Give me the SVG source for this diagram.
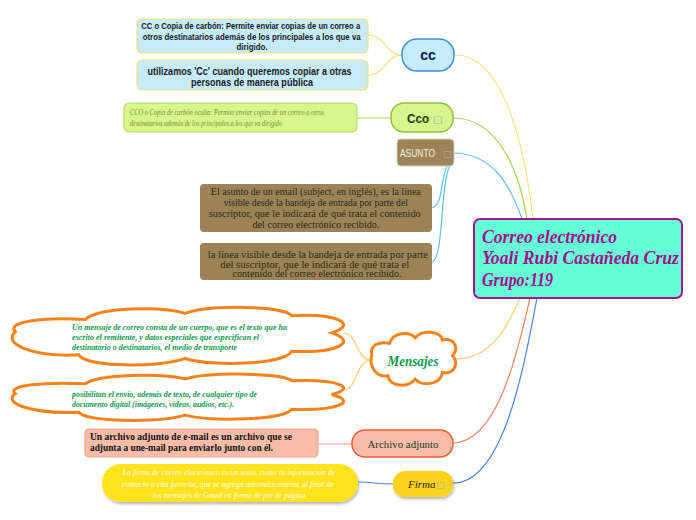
<svg xmlns="http://www.w3.org/2000/svg" xmlns:xlink="http://www.w3.org/1999/xlink" width="696" height="520" viewBox="0 0 696 520">
<style>
.conn{fill:none;stroke-width:1.2}
.cc{fill:#c6ebfb}
.t{font-family:"Liberation Serif","DejaVu Serif",serif}
.s{font-family:"Liberation Sans","DejaVu Sans",sans-serif}
.cloud{fill:#fff;stroke:#f7821b;stroke-width:3}
.mtx{font-family:"Liberation Serif","DejaVu Serif",serif;font-style:italic;font-weight:bold;fill:#0d9a4c;font-size:9px}
.tofu{font-family:"DejaVu Sans",sans-serif;fill:#b0b0a0}
</style>
<defs>
<path id="cloud" vector-effect="non-scaling-stroke" d="M1,42 C-2,25 10,18 22,22 C26,2 45,0 52,12 C60,-3 82,0 84,16 C98,12 104,30 96,44 C104,58 98,78 84,74 C82,96 60,100 52,86 C44,102 22,100 20,80 C6,84 -3,62 1,42 Z"/>
<filter id="sh" x="-10%" y="-20%" width="120%" height="150%"><feDropShadow dx="1" dy="2" stdDeviation="1.5" flood-color="#000" flood-opacity="0.3"/></filter>
</defs>
<rect width="696" height="520" fill="#fff"/>

<g id="connectors">
<path class="conn" stroke="#f7e07a" d="M455,55 C505,55 525,150 533,219"/>
<path class="conn" stroke="#a8d45a" d="M453,118 C500,118 520,175 527,219"/>
<path class="conn" stroke="#5bc0eb" d="M453,153 C495,153 512,190 522,219"/>
<path class="conn" stroke="#ffc870" d="M455,359 C495,359 510,320 520,298"/>
<path class="conn" stroke="#f5805a" d="M453,443 C500,443 520,340 530,298"/>
<path class="conn" stroke="#4a84e0" d="M453,483 C505,483 525,360 537,298"/>
<path class="conn" stroke="#f7e07a" d="M402,55 C385,55 386,35 368,35"/>
<path class="conn" stroke="#f7e07a" d="M402,55 C385,55 386,75 368,75"/>
<path class="conn" stroke="#a8d45a" d="M391,118 L357,118"/>
<path class="conn" stroke="#5bc0eb" d="M448,165 C440,175 444,205 432,208"/>
<path class="conn" stroke="#5bc0eb" d="M450,165 C440,185 444,258 432,262"/>
<path class="conn" stroke="#ffc870" d="M372,360 C355,360 358,333 343,333"/>
<path class="conn" stroke="#ffc870" d="M372,360 C355,360 358,390 343,390"/>
<path class="conn" stroke="#f8a08a" d="M352,444 L318,444"/>
<path class="conn" stroke="#4a84e0" d="M393,484 C375,484 376,482 358,482"/>
</g>

<g id="central">
<rect x="474" y="219" width="208" height="79" rx="6" fill="#66ffd8" stroke="#a5158f" stroke-width="2"/>
<text class="t" font-size="18" font-weight="bold" font-style="italic" fill="#a0108a">
<tspan x="482" y="243" textLength="135" lengthAdjust="spacingAndGlyphs">Correo electrónico</tspan>
<tspan x="482" y="264" textLength="197" lengthAdjust="spacingAndGlyphs">Yoali Rubi Castañeda Cruz</tspan>
<tspan x="482" y="286" textLength="71" lengthAdjust="spacingAndGlyphs">Grupo:119</tspan>
</text>
</g>

<g id="cc">
<rect class="cc" x="402" y="39" width="52" height="32" rx="15" stroke="#3d8fd8" stroke-width="1.5"/>
<text class="s" x="428" y="60" text-anchor="middle" font-size="14" font-weight="bold" fill="#0a1a4a">cc</text>
</g>
<g id="cc-1">
<rect class="cc" x="137" y="19" width="231" height="34" rx="5" stroke="#f7e07a" stroke-width="1.2"/>
<text class="s" font-size="9.5" font-weight="bold" fill="#1a1a1a" text-anchor="middle">
<tspan x="252" y="29" textLength="219" lengthAdjust="spacingAndGlyphs">CC o Copia de carbón: Permite enviar copias de un correo a</tspan>
<tspan x="253" y="39.5" textLength="218" lengthAdjust="spacingAndGlyphs">otros destinatarios además de los principales a los que va</tspan>
<tspan x="252" y="50" textLength="31" lengthAdjust="spacingAndGlyphs">dirigido.</tspan>
</text>
</g>
<g id="cc-2">
<rect class="cc" x="137" y="60" width="231" height="30" rx="5" stroke="#f7e07a" stroke-width="1.2"/>
<text class="s" font-size="10" font-weight="bold" fill="#1a1a1a" text-anchor="middle">
<tspan x="251" y="75" textLength="204" lengthAdjust="spacingAndGlyphs">utilizamos 'Cc' cuando queremos copiar a otras</tspan>
<tspan x="252" y="86" textLength="122" lengthAdjust="spacingAndGlyphs">personas de manera pública</tspan>
</text>
</g>

<g id="cco">
<rect x="391" y="103" width="62" height="29" rx="13" fill="#d6f58c" stroke="#8fc43a" stroke-width="1.5"/>
<text class="s" x="407" y="123" font-size="13" font-weight="bold" fill="#1e3a14" textLength="22" lengthAdjust="spacingAndGlyphs">Cco</text>
<text class="tofu" x="433" y="123" font-size="10">□</text>
</g>
<g id="cco-1">
<rect x="124" y="103" width="233" height="29" rx="5" fill="#d6f58c" stroke="#b6e065" stroke-width="1.2"/>
<text class="t" font-size="7.5" font-style="italic" fill="#7d8c30">
<tspan x="130" y="115" textLength="194" lengthAdjust="spacingAndGlyphs">CCO o Copia de carbón oculta: Permite enviar copias de un correo a otros</tspan>
<tspan x="130" y="126" textLength="152" lengthAdjust="spacingAndGlyphs">destinatarios además de los principales a los que va dirigido</tspan>
</text>
</g>

<g id="asunto">
<rect x="397" y="139" width="57" height="27" rx="4" fill="#9c8458" stroke="#d8cdb0" stroke-width="1"/>
<text class="s" x="400" y="157" font-size="10.5" fill="#f5efe0" textLength="35" lengthAdjust="spacingAndGlyphs">ASUNTO</text>
<text class="tofu" x="443" y="157" fill="#c8bca0" font-size="9">□</text>
</g>
<g id="asunto-1">
<rect x="200" y="184" width="232" height="48" rx="4" fill="#9b8356"/>
<text class="t" font-size="9.5" fill="#2b2a1c" text-anchor="middle">
<tspan x="317" y="195" textLength="210" lengthAdjust="spacingAndGlyphs">El asunto de un email (subject, en inglés), es la línea</tspan>
<tspan x="317" y="206" textLength="184" lengthAdjust="spacingAndGlyphs">visible desde la bandeja de entrada por parte del</tspan>
<tspan x="316" y="217" textLength="212" lengthAdjust="spacingAndGlyphs">suscriptor, que le indicará de qué trata el contenido</tspan>
<tspan x="316" y="227.5" textLength="127" lengthAdjust="spacingAndGlyphs">del correo electrónico recibido.</tspan>
</text>
</g>
<g id="asunto-2">
<rect x="200" y="243" width="232" height="37" rx="4" fill="#9b8356"/>
<text class="t" font-size="9.5" fill="#2b2a1c" text-anchor="middle">
<tspan x="319" y="258" textLength="220" lengthAdjust="spacingAndGlyphs">la línea visible desde la bandeja de entrada por parte</tspan>
<tspan x="316" y="267.5" textLength="189" lengthAdjust="spacingAndGlyphs">del suscriptor, que le indicará de qué trata el</tspan>
<tspan x="317" y="277" textLength="169" lengthAdjust="spacingAndGlyphs">contenido del correo electrónico recibido.</tspan>
</text>
</g>

<g id="mensajes">
<use xlink:href="#cloud" href="#cloud" class="cloud" transform="translate(371,331) scale(0.85,0.56)"/>
<text class="t" x="413" y="366" text-anchor="middle" font-size="14.5" font-weight="bold" font-style="italic" fill="#0d9a4c" textLength="51" lengthAdjust="spacingAndGlyphs">Mensajes</text>
</g>
<g id="mensajes-1">
<use xlink:href="#cloud" href="#cloud" class="cloud" transform="translate(12,306) scale(3.33,0.61)"/>
<text class="mtx">
<tspan x="72" y="330" textLength="215" lengthAdjust="spacingAndGlyphs">Un mensaje de correo consta de un cuerpo, que es el texto que ha</tspan>
<tspan x="72" y="340" textLength="187" lengthAdjust="spacingAndGlyphs">escrito el remitente, y datos especiales que especifican el</tspan>
<tspan x="72" y="350" textLength="165" lengthAdjust="spacingAndGlyphs">destinatario o destinatarios, el medio de transporte</tspan>
</text>
</g>
<g id="mensajes-2">
<use xlink:href="#cloud" href="#cloud" class="cloud" transform="translate(12,373) scale(3.33,0.49)"/>
<text class="mtx">
<tspan x="72" y="397" textLength="185" lengthAdjust="spacingAndGlyphs">posibilitan el envío, además de texto, de cualquier tipo de</tspan>
<tspan x="72" y="407" textLength="162" lengthAdjust="spacingAndGlyphs">documento digital (imágenes, videos, audios, etc.).</tspan>
</text>
</g>

<g id="archivo">
<rect x="352" y="430" width="101" height="27" rx="13" fill="#f7bda8" stroke="#ef5a2a" stroke-width="1.5"/>
<text class="t" x="403" y="448" text-anchor="middle" font-size="11" fill="#1e3a1e" textLength="71" lengthAdjust="spacingAndGlyphs">Archivo adjunto</text>
</g>
<g id="archivo-1">
<rect x="85" y="429" width="233" height="28" rx="4" fill="#f7bda8" stroke="#f5a590" stroke-width="1.2"/>
<text class="t" font-size="9.5" font-weight="bold" fill="#111">
<tspan x="90" y="440" textLength="202" lengthAdjust="spacingAndGlyphs">Un archivo adjunto de e-mail es un archivo que se</tspan>
<tspan x="90" y="450.5" textLength="183" lengthAdjust="spacingAndGlyphs">adjunta a une-mail para enviarlo junto con él.</tspan>
</text>
</g>

<g id="firma">
<rect x="393" y="471" width="60" height="26" rx="12" fill="#fbd31e" filter="url(#sh)"/>
<text class="t" x="408" y="488" font-size="11" font-style="italic" fill="#2a2200">Firma</text>
<text class="tofu" x="436" y="488" font-size="9">□</text>
</g>
<g id="firma-1">
<rect x="102" y="464" width="256" height="38" rx="19" fill="#fde31a" filter="url(#sh)"/>
<text class="t" font-size="8.5" font-style="italic" fill="#fffbe8" text-anchor="middle">
<tspan x="230" y="475" textLength="213" lengthAdjust="spacingAndGlyphs">La firma de correo electrónico es un texto, como tu información de</tspan>
<tspan x="229" y="487" textLength="212" lengthAdjust="spacingAndGlyphs">contacto o cita favorita, que se agrega automáticamente al final de</tspan>
<tspan x="230" y="498" textLength="155" lengthAdjust="spacingAndGlyphs">los mensajes de Gmail en forma de pie de página.</tspan>
</text>
</g>
</svg>
